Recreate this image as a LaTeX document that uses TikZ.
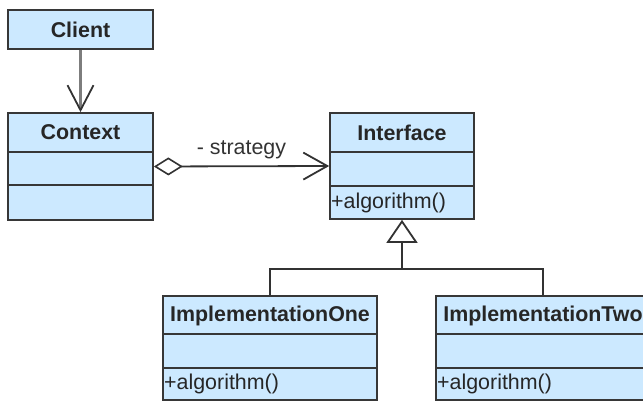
\documentclass[tikz,border=0pt]{standalone}
\usepackage{fontspec}
\setmainfont{Liberation Sans}
\usetikzlibrary{arrows.meta}
\definecolor{boxfill}{RGB}{204,233,255}
\definecolor{boxline}{RGB}{55,55,55}
\definecolor{conline}{RGB}{50,50,50}
\definecolor{grayline}{RGB}{125,125,125}
\begin{document}
\begin{tikzpicture}[x=1pt,y=-1pt,
  classbox/.style={draw=boxline, fill=boxfill, line width=1.7pt, rectangle, inner sep=0pt},
  divider/.style={draw=boxline, line width=1.7pt},
  cname/.style={font=\fontsize{21.4}{24}\selectfont\bfseries, text=black!85, inner sep=0pt},
  cop/.style={font=\fontsize{21.4}{24}\selectfont, text=black!85, inner sep=0pt, anchor=west},
  conn/.style={draw=conline, line width=1.8pt},
]
\useasboundingbox (0,0) rectangle (643,402);
\clip (0,0) rectangle (643,402);
\fill[white] (0,0) rectangle (643,402);

% Client
\node[classbox, minimum width=145pt, minimum height=39pt] (client) at (80.5,29.5) {};
\node[cname] (clientname) at (80.5,29.5) {Client};

% Context
\node[classbox, minimum width=145pt, minimum height=107pt] (context) at (80.5,166.5) {};
\draw[divider] (8,152) -- (153,152);
\draw[divider] (8,185) -- (153,185);
\node[cname] (contextname) at (80.5,132.5) {Context};

% Interface
\node[classbox, minimum width=144pt, minimum height=106pt] (interface) at (402,166) {};
\draw[divider] (330,152) -- (474,152);
\draw[divider] (330,186) -- (474,186);
\node[cname] (interfacename) at (402,132.5) {Interface};
\node[cop] (interfaceop) at (331,202.5) {+algorithm()};

% ImplementationOne
\node[classbox, minimum width=214pt, minimum height=104pt] (implone) at (270,348) {};
\draw[divider] (163,334) -- (377,334);
\draw[divider] (163,368) -- (377,368);
\node[cname] (imploneName) at (270,315.5) {ImplementationOne};
\node[cop] (imploneop) at (164,383.5) {+algorithm()};

% ImplementationTwo
\node[classbox, minimum width=214pt, minimum height=104pt] (impltwo) at (543,348) {};
\draw[divider] (436,334) -- (650,334);
\draw[divider] (436,368) -- (650,368);
\node[cname] (impltwoname) at (543,315.5) {ImplementationTwo};
\node[cop] (impltwoop) at (437,383.5) {+algorithm()};

% Connectors
\draw[draw=grayline, line width=3pt, -{Straight Barb[length=25pt,width=26pt,line width=1.8pt,color=conline]}] (client.south) -- (context.north);

\draw[conn, {Diamond[open,fill=white,length=29pt,width=18pt,line width=1.6pt]}-{Straight Barb[length=24pt,width=27pt,line width=1.8pt]}] (context.east) -- (interface.west)
  node[midway, above=6pt, font=\fontsize{21.4}{24}\selectfont, text=black!80, inner sep=0pt] (strategylabel) {- strategy};

\coordinate (join) at (402,269);
\draw[conn] (implone.north) |- (join);
\draw[conn] (impltwo.north) |- (join);
\draw[conn, -{Triangle[open,fill=white,length=23pt,width=31pt,line width=1.8pt]}] (join) -- (interface.south);
\end{tikzpicture}
\end{document}
